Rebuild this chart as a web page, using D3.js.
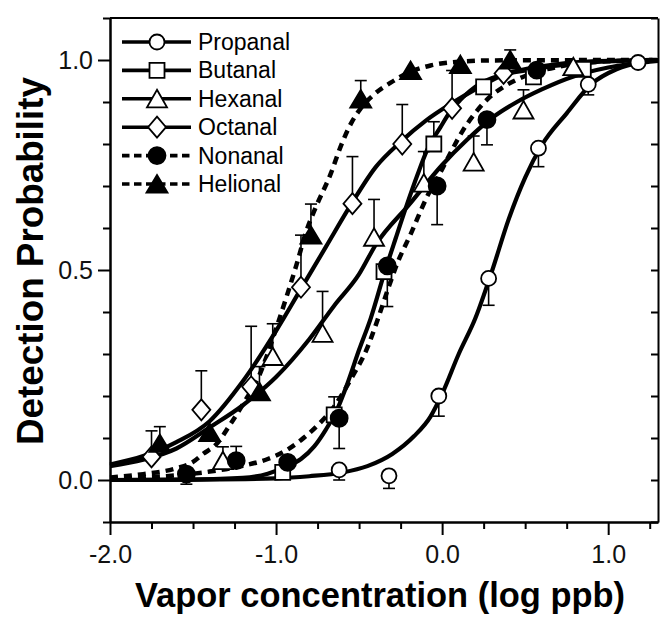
<!DOCTYPE html>
<html>
<head>
<meta charset="utf-8">
<script src="https://cdn.jsdelivr.net/npm/d3@7"></script>
<style>
  body { margin: 0; background: #fff; }
  svg { display: block; font-family: "Liberation Sans", Arial, sans-serif; }
</style>
</head>
<body>
<div id="chart"></div>
<script>
// ---- data (log ppb vs detection probability) ----
const seriesNames = ["Propanal", "Butanal", "Hexanal", "Octanal", "Nonanal", "Helional"];

// measured points; err > 0 = bar up, err < 0 = bar down
const propanalX = [-0.62, -0.32, -0.02, 0.28, 0.58, 0.88, 1.18];
const propanalY = [0.024, 0.01, 0.20, 0.48, 0.79, 0.942, 0.994];
const propanalErr = [-0.024, -0.03, -0.048, -0.064, -0.044, -0.025, 0];

const butanalX = [-0.96, -0.65, -0.35, -0.05, 0.25, 0.55, 0.85];
const butanalY = [0.018, 0.155, 0.496, 0.80, 0.936, 0.96, 0.978];
const butanalErr = [0, 0.043, 0, 0.053, 0, 0, 0];

const hexanalX = [-1.32, -1.02, -0.72, -0.41, -0.11, 0.19, 0.49, 0.79];
const hexanalY = [0.046, 0.294, 0.349, 0.578, 0.707, 0.757, 0.881, 0.984];
const hexanalErr = [0.033, 0.078, 0.10, 0.09, 0.075, 0.062, 0.048, 0];

const octanalX = [-1.75, -1.45, -1.15, -0.85, -0.54, -0.24, 0.06, 0.37];
const octanalY = [0.055, 0.167, 0.222, 0.459, 0.658, 0.80, 0.885, 0.968];
const octanalErr = [0.062, 0.093, 0.144, 0.124, 0.112, 0.094, 0.09, 0];

const nonanalX = [-1.54, -1.24, -0.93, -0.62, -0.33, -0.03, 0.27, 0.57];
const nonanalY = [0.014, 0.046, 0.042, 0.147, 0.51, 0.70, 0.858, 0.976];
const nonanalErr = [-0.024, 0.034, 0, -0.072, -0.097, -0.092, -0.06, 0];

const helionalX = [-1.70, -1.40, -1.10, -0.79, -0.49, -0.19, 0.11, 0.41];
const helionalY = [0.087, 0.113, 0.21, 0.583, 0.907, 0.975, 0.989, 1.0];
const helionalErr = [0.04, 0, 0.06, 0.074, 0.044, 0, 0, 0.024];

// fitted curves
const propanalFitX = [-2.0, -1.5, -1.0, -0.8, -0.6, -0.45, -0.3, -0.17, -0.07, 0.0, 0.1, 0.2, 0.3, 0.4, 0.5, 0.6, 0.75, 0.9, 1.05, 1.2, 1.3];
const propanalFitY = [0.0, 0.001, 0.004, 0.009, 0.018, 0.033, 0.062, 0.104, 0.151, 0.205, 0.30, 0.385, 0.497, 0.62, 0.72, 0.797, 0.873, 0.943, 0.978, 0.995, 1.0];

const butanalFitX = [-2.0, -1.5, -1.2, -1.05, -0.95, -0.85, -0.77, -0.7, -0.63, -0.57, -0.5, -0.43, -0.35, -0.28, -0.21, -0.15, -0.09, -0.01, 0.05, 0.11, 0.23, 0.35, 0.53, 0.85, 1.3];
const butanalFitY = [0.0, 0.001, 0.005, 0.015, 0.03, 0.05, 0.08, 0.12, 0.17, 0.23, 0.31, 0.385, 0.49, 0.575, 0.658, 0.725, 0.786, 0.84, 0.878, 0.905, 0.944, 0.963, 0.977, 0.993, 1.0];

const hexanalFitX = [-2.0, -1.8, -1.6, -1.4, -1.2, -1.0, -0.8, -0.65, -0.5, -0.4, -0.2, 0.0, 0.15, 0.3, 0.45, 0.6, 0.8, 1.0, 1.3];
const hexanalFitY = [0.033, 0.048, 0.075, 0.125, 0.178, 0.245, 0.335, 0.415, 0.49, 0.56, 0.655, 0.75, 0.81, 0.862, 0.9, 0.93, 0.962, 0.982, 0.998];

const octanalFitX = [-2.0, -1.8, -1.6, -1.4, -1.2, -1.0, -0.85, -0.7, -0.55, -0.4, -0.25, -0.1, 0.05, 0.2, 0.37, 0.6, 0.9, 1.3];
const octanalFitY = [0.037, 0.057, 0.09, 0.14, 0.235, 0.355, 0.455, 0.555, 0.655, 0.745, 0.805, 0.855, 0.895, 0.93, 0.965, 0.985, 0.997, 1.0];

const nonanalFitX = [-2.0, -1.8, -1.6, -1.4, -1.2, -1.05, -0.95, -0.85, -0.75, -0.65, -0.55, -0.45, -0.39, -0.33, -0.27, -0.19, -0.09, 0.0, 0.06, 0.12, 0.19, 0.29, 0.37, 0.5, 0.7, 1.0, 1.3];
const nonanalFitY = [0.003, 0.006, 0.011, 0.02, 0.034, 0.05, 0.068, 0.095, 0.13, 0.175, 0.24, 0.315, 0.38, 0.45, 0.516, 0.585, 0.675, 0.74, 0.786, 0.829, 0.869, 0.913, 0.936, 0.962, 0.984, 0.997, 1.0];

const helionalFitX = [-2.0, -1.8, -1.6, -1.5, -1.44, -1.36, -1.28, -1.2, -1.1, -1.0, -0.93, -0.875, -0.82, -0.76, -0.67, -0.61, -0.55, -0.49, -0.41, -0.31, -0.19, -0.07, 0.1, 0.3, 1.3];
const helionalFitY = [0.006, 0.014, 0.028, 0.043, 0.062, 0.085, 0.13, 0.18, 0.25, 0.36, 0.445, 0.515, 0.59, 0.65, 0.73, 0.795, 0.848, 0.885, 0.918, 0.946, 0.972, 0.987, 0.996, 0.999, 1.0];

const xMajorTicks = [-2, -1, 0, 1];
const xTickLabels = ["-2.0", "-1.0", "0.0", "1.0"];
const xMinorTicks = [-1.75, -1.5, -1.25, -0.75, -0.5, -0.25, 0.25, 0.5, 0.75, 1.25];
const yMajorTicks = [0, 0.5, 1];
const yTickLabels = ["0.0", "0.5", "1.0"];
const yMinorTicks = [-0.1, 0.1, 0.2, 0.3, 0.4, 0.6, 0.7, 0.8, 0.9, 1.1];

const series = [
    { name: "Propanal", shape: "circle", filled: false, dashed: false, x: propanalX, y: propanalY, err: propanalErr, fx: propanalFitX, fy: propanalFitY },
    { name: "Butanal", shape: "square", filled: false, dashed: false, x: butanalX, y: butanalY, err: butanalErr, fx: butanalFitX, fy: butanalFitY },
    { name: "Hexanal", shape: "triangle", filled: false, dashed: false, x: hexanalX, y: hexanalY, err: hexanalErr, fx: hexanalFitX, fy: hexanalFitY },
    { name: "Octanal", shape: "diamond", filled: false, dashed: false, x: octanalX, y: octanalY, err: octanalErr, fx: octanalFitX, fy: octanalFitY },
    { name: "Nonanal", shape: "circle", filled: true, dashed: true, x: nonanalX, y: nonanalY, err: nonanalErr, fx: nonanalFitX, fy: nonanalFitY },
    { name: "Helional", shape: "triangle", filled: true, dashed: true, x: helionalX, y: helionalY, err: helionalErr, fx: helionalFitX, fy: helionalFitY }
];

// ---- layout ----
const W = 665, H = 619;
const plotLeft = 110, plotRight = 658, plotTop = 18, plotBottom = 522;

const svg = d3.select("#chart").append("svg")
    .attr("width", W)
    .attr("height", H);

const x = d3.scaleLinear().domain([-2, 1.3]).range([plotLeft, plotRight]);
const y = d3.scaleLinear().domain([-0.1, 1.1]).range([plotBottom, plotTop]);

function styleAxis(g) {
    g.selectAll("path, line").attr("stroke", "#000").attr("stroke-width", 2);
    g.selectAll("text").attr("fill", "#111").style("font-size", "25px")
        .style("font-family", "'Liberation Sans', Arial, sans-serif");
}

// bottom axis
svg.append("g")
    .attr("transform", `translate(0,${plotBottom})`)
    .call(d3.axisBottom(x).tickValues(xMinorTicks).tickSize(7).tickSizeOuter(0).tickFormat(""))
    .call(styleAxis);
svg.append("g")
    .attr("transform", `translate(0,${plotBottom})`)
    .call(d3.axisBottom(x).tickValues(xMajorTicks).tickSize(13).tickSizeOuter(0).tickPadding(10)
        .tickFormat((d, i) => xTickLabels[i]))
    .call(styleAxis);

// left axis
svg.append("g")
    .attr("transform", `translate(${plotLeft},0)`)
    .call(d3.axisLeft(y).tickValues(yMinorTicks).tickSize(7).tickSizeOuter(0).tickFormat(""))
    .call(styleAxis);
svg.append("g")
    .attr("transform", `translate(${plotLeft},0)`)
    .call(d3.axisLeft(y).tickValues(yMajorTicks).tickSize(12).tickSizeOuter(0).tickPadding(5)
        .tickFormat((d, i) => yTickLabels[i]))
    .call(styleAxis);

// right frame with inward ticks
svg.append("g")
    .attr("transform", `translate(${plotRight},0)`)
    .call(d3.axisLeft(y).tickValues(yMinorTicks.concat(yMajorTicks)).tickSize(7).tickSizeOuter(0).tickFormat(""))
    .call(styleAxis);

// top frame
svg.append("line")
    .attr("x1", plotLeft).attr("x2", plotRight)
    .attr("y1", plotTop).attr("y2", plotTop)
    .attr("stroke", "#000").attr("stroke-width", 2);

// ---- fitted curves ----
const line = d3.line()
    .x(d => x(d[0]))
    .y(d => y(d[1]))
    .curve(d3.curveMonotoneX);

const plot = svg.append("g");

series.forEach(s => {
    plot.append("path")
        .datum(s.fx.map((v, i) => [v, s.fy[i]]))
        .attr("fill", "none")
        .attr("stroke", "#000")
        .attr("stroke-width", s.dashed ? 4.5 : 4.2)
        .attr("stroke-dasharray", s.dashed ? "8,6" : null)
        .attr("stroke-linejoin", "round")
        .attr("d", line);
});

// ---- markers ----
function markerPath(shape, big) {
    if (shape === "square") return "M-7.5,-7.5H7.5V7.5H-7.5Z";
    if (shape === "triangle") return big ? "M0,-9L10.5,8.5H-10.5Z" : "M0,-9L10,8.5H-10Z";
    if (shape === "diamond") return "M0,-10.5L9,0L0,10.5L-9,0Z";
    return null;
}

function drawMarker(g, s, cx, cy) {
    if (s.shape === "circle") {
        g.append("circle")
            .attr("cx", cx).attr("cy", cy)
            .attr("r", s.filled ? 8.5 : 7.5)
            .attr("fill", s.filled ? "#000" : "#fff")
            .attr("stroke", "#000")
            .attr("stroke-width", 1.8);
    } else {
        g.append("path")
            .attr("d", markerPath(s.shape, s.filled))
            .attr("transform", `translate(${cx},${cy})`)
            .attr("fill", s.filled ? "#000" : "#fff")
            .attr("stroke", "#000")
            .attr("stroke-width", 1.8)
            .attr("stroke-linejoin", "miter");
    }
}

// error bars
series.forEach(s => {
    s.x.forEach((xv, i) => {
        const e = s.err[i];
        if (!e) return;
        const px = x(xv), y0 = y(s.y[i]), y1 = y(s.y[i] + e);
        plot.append("line")
            .attr("x1", px).attr("x2", px).attr("y1", y0).attr("y2", y1)
            .attr("stroke", "#000").attr("stroke-width", 1.6);
        plot.append("line")
            .attr("x1", px - 6).attr("x2", px + 6).attr("y1", y1).attr("y2", y1)
            .attr("stroke", "#000").attr("stroke-width", 1.6);
    });
});

series.forEach(s => {
    s.x.forEach((xv, i) => drawMarker(plot, s, x(xv), y(s.y[i])));
});

// ---- legend ----
const legend = svg.append("g");
const legY0 = 42, legStep = 28.4;
series.forEach((s, i) => {
    const ly = legY0 + i * legStep;
    legend.append("line")
        .attr("x1", 122).attr("x2", 191)
        .attr("y1", ly).attr("y2", ly)
        .attr("stroke", "#000")
        .attr("stroke-width", 3.6)
        .attr("stroke-dasharray", s.dashed ? "7.5,4.5" : null);
    drawMarker(legend, s, 157, ly);
    legend.append("text")
        .attr("x", 198)
        .attr("y", ly + 8)
        .style("font-size", "23px")
        .attr("fill", "#000")
        .text(s.name);
});

// ---- axis titles ----
svg.append("text")
    .attr("x", 380)
    .attr("y", 607)
    .attr("text-anchor", "middle")
    .style("font-size", "35px")
    .style("font-weight", "bold")
    .attr("textLength", 490)
    .attr("lengthAdjust", "spacingAndGlyphs")
    .text("Vapor concentration (log ppb)");

svg.append("text")
    .attr("transform", "translate(43,261) rotate(-90)")
    .attr("text-anchor", "middle")
    .style("font-size", "36px")
    .style("font-weight", "bold")
    .attr("textLength", 368)
    .attr("lengthAdjust", "spacingAndGlyphs")
    .text("Detection Probability");
</script>
</body>
</html>
